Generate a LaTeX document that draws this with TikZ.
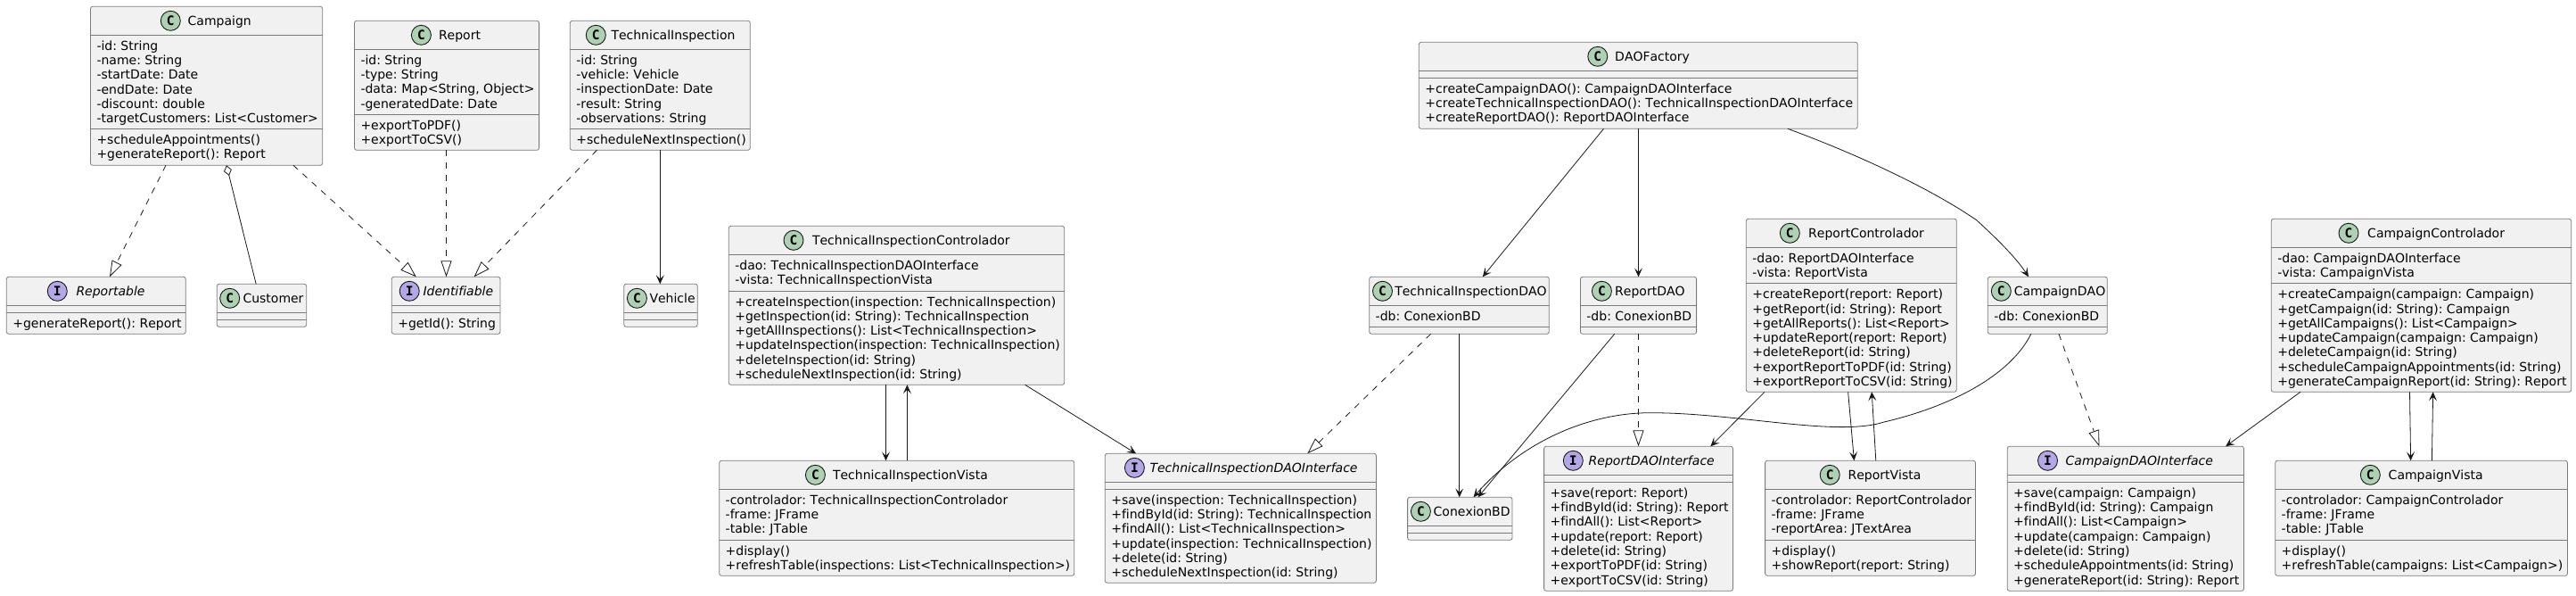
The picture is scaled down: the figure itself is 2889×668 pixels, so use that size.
\documentclass[tikz,border=0pt]{standalone}
\usepackage{fontspec}
\setmainfont{DejaVu Sans}[Kerning=Off,Ligatures=NoCommon]
\newfontfamily\circfont{DejaVu Sans Mono}
\usetikzlibrary{arrows.meta}
\definecolor{umlink}{HTML}{181818}
\definecolor{umledge}{HTML}{7A7A7A}
\definecolor{umlfill}{HTML}{F1F1F1}
\definecolor{umlclassc}{HTML}{ADD1B2}
\definecolor{umlifacec}{HTML}{B4A7E5}
\tikzset{
  umlbox/.style={draw=umledge,fill=umlfill,line width=.8pt,rounded corners=2.5pt,inner sep=0pt,outer sep=0pt},
  umlsep/.style={draw=umledge,line width=.8pt},
  umltxt/.style={inner sep=0pt,outer sep=0pt,align=left,text=black,font=\fontsize{14}{16.3}\selectfont\frenchspacing},
  umltitle/.style={inner sep=0pt,outer sep=0pt,anchor=base west,text=black,font=\fontsize{14}{16.3}\selectfont\frenchspacing},
  umlcirc/.style={circle,draw=umlink,line width=.9pt,minimum size=22pt,inner sep=0pt,outer sep=0pt,font=\fontsize{14.5}{16}\selectfont\circfont\bfseries},
  cls/.style={umlcirc,fill=umlclassc},
  ifc/.style={umlcirc,fill=umlifacec},
  lnk/.style={draw=umlink,line width=.8pt},
  assoc/.style={lnk,-{Stealth[length=10pt,width=9pt,inset=4.5pt]}},
  dep/.style={lnk,dash pattern=on 7pt off 7pt,-{Triangle[open,length=18pt,width=12pt]}},
  agg/.style={lnk,{Diamond[open,length=12pt,width=9pt]}-}
}
% name x1 y1 x2 y2 sep1 sep2
\newcommand{\umlbox}[7]{%
  \def\curN{#1}\def\curX{#2}\def\curY{#3}%
  \node[umlbox,minimum width={(#4-#2)*1pt},minimum height={(#5-#3)*1pt}] (#1) at ({(#2+#4)/2},{(#3+#5)/2}) {};
  \draw[umlsep] (#1.west |- 0,#6) -- (#1.east |- 0,#6);
  \draw[umlsep] (#1.west |- 0,#7) -- (#1.east |- 0,#7);
}
% kind letter circle-x title-x title
\newcommand{\umlhead}[5]{%
  \node[#1] (\curN-c) at ({#3},{\curY+16}) {#2};
  \node[umltitle] (\curN-t) at ({#4},{\curY+21}) {#5};
}
% suffix sep lines
\newcommand{\umlrows}[3]{%
  \node[umltxt,anchor=north west] (\curN-#1) at ({\curX+7},{#2+5}) {\rule{0pt}{12pt}#3};
}
\begin{document}
\begin{tikzpicture}[x=1pt,y=-1pt]
\useasboundingbox (0,0) rectangle (2889,668);

\umlbox{campaign}{101.5}{7.3}{361.7}{185.3}{39.3}{144.3}
\umlhead{cls}{C}{191.3}{210.7}{Campaign}
\umlrows{a}{39.3}{-id: String\\-name: String\\-startDate: Date\\-endDate: Date\\-discount: double\\-targetCustomers: List<Customer>}
\umlrows{m}{144.3}{+scheduleAppointments()\\+generateReport(): Report}

\umlbox{report}{397.5}{23.3}{604.6}{168.3}{55.3}{128.3}
\umlhead{cls}{C}{472.4}{492}{Report}
\umlrows{a}{55.3}{-id: String\\-type: String\\-data: Map<String, Object>\\-generatedDate: Date}
\umlrows{m}{128.3}{+exportToPDF()\\+exportToCSV()}

\umlbox{techinsp}{639.3}{23.3}{841.3}{168.3}{55.3}{144.3}
\umlhead{cls}{C}{668.3}{685.5}{TechnicalInspection}
\umlrows{a}{55.3}{-id: String\\-vehicle: Vehicle\\-inspectionDate: Date\\-result: String\\-observations: String}
\umlrows{m}{144.3}{+scheduleNextInspection()}

\umlbox{reportable}{7.3}{310.3}{208.3}{374.3}{342.3}{350.3}
\umlhead{ifc}{I}{64.3}{85.5}{\itshape Reportable}
\umlrows{m}{350.3}{+generateReport(): Report}

\umlbox{customer}{243.3}{318.3}{343.7}{366.3}{350.3}{358.3}
\umlhead{cls}{C}{257.7}{272.5}{Customer}

\umlbox{identifiable}{439.3}{310.3}{561}{374.3}{342.3}{350.3}
\umlhead{ifc}{I}{459.2}{474.5}{\itshape Identifiable}
\umlrows{m}{350.3}{+getId(): String}

\umlbox{vehicle}{699.8}{318.3}{782.2}{366.3}{350.3}{358.3}
\umlhead{cls}{C}{714.4}{728.5}{Vehicle}

\umlbox{tic}{817.3}{253.3}{1193.7}{431.3}{285.3}{326}
\umlhead{cls}{C}{890}{911}{TechnicalInspectionControlador}
\umlrows{a}{285.3}{-dao: TechnicalInspectionDAOInterface\\-vista: TechnicalInspectionVista}
\umlrows{m}{326}{+createInspection(inspection: TechnicalInspection)\\+getInspection(id: String): TechnicalInspection\\+getAllInspections(): List<TechnicalInspection>\\+updateInspection(inspection: TechnicalInspection)\\+deleteInspection(id: String)\\+scheduleNextInspection(id: String)}

\umlbox{tiv}{806.7}{516.3}{1204.7}{645.3}{548.3}{605.3}
\umlhead{cls}{C}{914.4}{934}{TechnicalInspectionVista}
\umlrows{a}{548.3}{-controlador: TechnicalInspectionControlador\\-frame: JFrame\\-table: JTable}
\umlrows{m}{605.3}{+display()\\+refreshTable(inspections: List<TechnicalInspection>)}

\umlbox{tidaoi}{1239.3}{508.3}{1543.4}{653.3}{540.3}{548.3}
\umlhead{ifc}{I}{1272.4}{1289.5}{\itshape TechnicalInspectionDAOInterface}
\umlrows{m}{548.3}{+save(inspection: TechnicalInspection)\\+findById(id: String): TechnicalInspection\\+findAll(): List<TechnicalInspection>\\+update(inspection: TechnicalInspection)\\+delete(id: String)\\+scheduleNextInspection(id: String)}

\umlbox{conexion}{1578.6}{557.3}{1696}{605.3}{589.3}{597.3}
\umlhead{cls}{C}{1593.4}{1607.7}{ConexionBD}

\umlbox{rdaoi}{1731.6}{500.3}{1943.4}{662.3}{532.3}{540.3}
\umlhead{ifc}{I}{1764.3}{1781.7}{\itshape ReportDAOInterface}
\umlrows{m}{540.3}{+save(report: Report)\\+findById(id: String): Report\\+findAll(): List<Report>\\+update(report: Report)\\+delete(id: String)\\+exportToPDF(id: String)\\+exportToCSV(id: String)}

\umlbox{rvista}{1979.6}{516.3}{2215.5}{645.3}{548.3}{605.3}
\umlhead{cls}{C}{2052.2}{2072.6}{ReportVista}
\umlrows{a}{548.3}{-controlador: ReportControlador\\-frame: JFrame\\-reportArea: JTextArea}
\umlrows{m}{605.3}{+display()\\+showReport(report: String)}

\umlbox{cdaoi}{2251.2}{500.3}{2516.5}{662.3}{532.3}{540.3}
\umlhead{ifc}{I}{2296.5}{2316.7}{\itshape CampaignDAOInterface}
\umlrows{m}{540.3}{+save(campaign: Campaign)\\+findById(id: String): Campaign\\+findAll(): List<Campaign>\\+update(campaign: Campaign)\\+delete(id: String)\\+scheduleAppointments(id: String)\\+generateReport(id: String): Report}

\umlbox{cvista}{2551.7}{516.3}{2879.4}{645.3}{548.3}{605.3}
\umlhead{cls}{C}{2658.3}{2678.7}{CampaignVista}
\umlrows{a}{548.3}{-controlador: CampaignControlador\\-frame: JFrame\\-table: JTable}
\umlrows{m}{605.3}{+display()\\+refreshTable(campaigns: List<Campaign>)}

\umlbox{rc}{1958.3}{245.3}{2194.3}{439.3}{277.3}{317.7}
\umlhead{cls}{C}{2007.3}{2028.2}{ReportControlador}
\umlrows{a}{277.3}{-dao: ReportDAOInterface\\-vista: ReportVista}
\umlrows{m}{317.7}{+createReport(report: Report)\\+getReport(id: String): Report\\+getAllReports(): List<Report>\\+updateReport(report: Report)\\+deleteReport(id: String)\\+exportReportToPDF(id: String)\\+exportReportToCSV(id: String)}

\umlbox{cc}{2547.3}{245.3}{2883.7}{439.3}{277.3}{317.7}
\umlhead{cls}{C}{2634}{2655.2}{CampaignControlador}
\umlrows{a}{277.3}{-dao: CampaignDAOInterface\\-vista: CampaignVista}
\umlrows{m}{317.7}{+createCampaign(campaign: Campaign)\\+getCampaign(id: String): Campaign\\+getAllCampaigns(): List<Campaign>\\+updateCampaign(campaign: Campaign)\\+deleteCampaign(id: String)\\+scheduleCampaignAppointments(id: String)\\+generateCampaignReport(id: String): Report}

\umlbox{factory}{1591.3}{47.3}{2083.3}{144.3}{79.3}{87.3}
\umlhead{cls}{C}{1791.8}{1811.2}{DAOFactory}
\umlrows{m}{87.3}{+createCampaignDAO(): CampaignDAOInterface\\+createTechnicalInspectionDAO(): TechnicalInspectionDAOInterface\\+createReportDAO(): ReportDAOInterface}

\umlbox{tidao}{1535.7}{310.3}{1737.3}{374.3}{342.3}{366.3}
\umlhead{cls}{C}{1550.5}{1564.3}{TechnicalInspectionDAO}
\umlrows{a}{342.3}{-db: ConexionBD}

\umlbox{rdao}{1772.4}{310.3}{1902.6}{374.3}{342.3}{366.3}
\umlhead{cls}{C}{1796.4}{1811.2}{ReportDAO}
\umlrows{a}{342.3}{-db: ConexionBD}

\umlbox{cdao}{2229.3}{310.3}{2363.3}{374.3}{342.3}{366.3}
\umlhead{cls}{C}{2244.3}{2258.8}{CampaignDAO}
\umlrows{a}{342.3}{-db: ConexionBD}

% connectors
\draw[dep] (186,0 |- campaign.south) -- (123,0 |- reportable.north);
\draw[agg] (254,0 |- campaign.south) -- (287.2,0 |- customer.north);
\draw[dep] (329,0 |- campaign.south) -- (466.8,0 |- identifiable.north);
\draw[dep] (500.5,0 |- report.south) -- (500.5,0 |- identifiable.north);
\draw[dep] (669.4,0 |- techinsp.south) -- (531.6,0 |- identifiable.north);
\draw[assoc] (740.3,0 |- techinsp.south) -- (740.3,0 |- vehicle.north);
\draw[assoc] (993.5,0 |- tic.south) -- (993.5,0 |- tiv.north);
\draw[assoc] (1017.4,0 |- tiv.north) -- (1017.4,0 |- tic.south);
\draw[assoc] (1149.6,0 |- tic.south) -- (1274,0 |- tidaoi.north);
\draw[dep] (1604.6,0 |- tidao.south) -- (1466.3,0 |- tidaoi.north);
\draw[assoc] (1636.7,0 |- tidao.south) -- (1636.7,0 |- conexion.north);
\draw[assoc] (1810.7,0 |- rdao.south) -- (1657.5,0 |- conexion.north);
\draw[dep] (1837.5,0 |- rdao.south) -- (1837.5,0 |- rdaoi.north);
\draw[assoc] (2277.8,0 |- cdao.south) .. controls (2255,420) and (2190,455) .. (2113,473)
  .. controls (2060,490) and (1950,463) .. (1853,462.7)
  .. controls (1780,462) and (1705,497) .. (1652.5,0 |- conexion.north);
\draw[dep] (2309,0 |- cdao.south) -- (2354.4,0 |- cdaoi.north);
\draw[assoc] (1979,0 |- rc.south) -- (1918.4,0 |- rdaoi.north);
\draw[assoc] (2072.6,0 |- rc.south) -- (2079.4,0 |- rvista.north);
\draw[assoc] (2103.8,0 |- rvista.north) -- (2099.2,0 |- rc.south);
\draw[assoc] (2580,0 |- cc.south) -- (2496.1,0 |- cdaoi.north);
\draw[assoc] (2702.5,0 |- cc.south) -- (2703.6,0 |- cvista.north);
\draw[assoc] (2727.4,0 |- cvista.north) -- (2728.6,0 |- cc.south);
\draw[assoc] (1798.5,0 |- factory.south) -- (1662.8,0 |- tidao.north);
\draw[assoc] (1837.5,0 |- factory.south) -- (1837.5,0 |- rdao.north);
\draw[assoc] (2005,0 |- factory.south) .. controls (2075,170) and (2160,208) .. (2216.7,246.7)
  .. controls (2240,268) and (2262,290) .. (2275,0 |- cdao.north);
\end{tikzpicture}
\end{document}
